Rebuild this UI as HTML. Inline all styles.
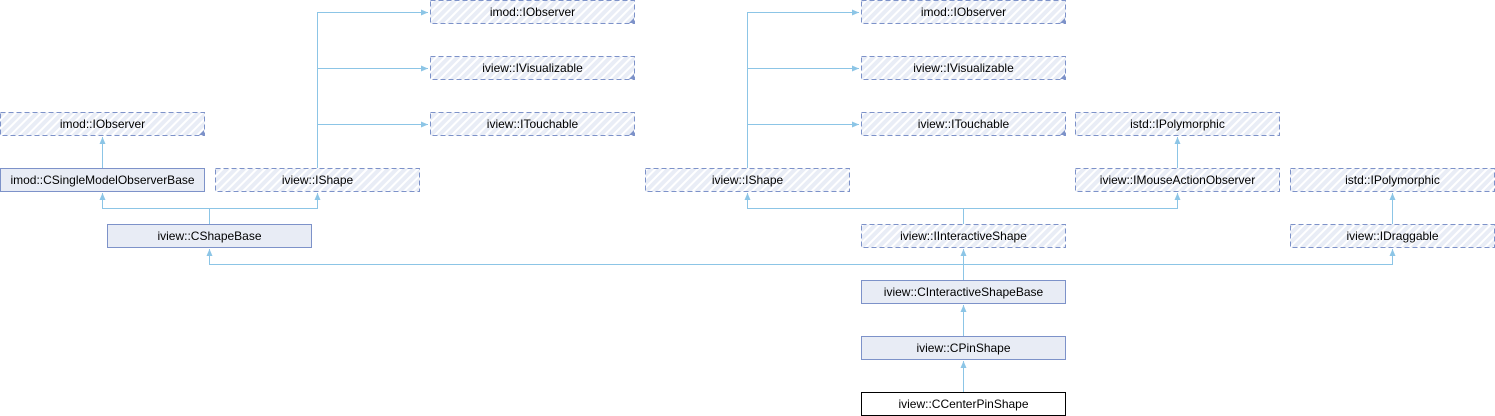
<!DOCTYPE html>
<html><head><meta charset="utf-8"><style>
html,body{margin:0;padding:0;background:#fff;}
svg{display:block;}
text{font-family:"Liberation Sans",Arial,sans-serif;font-size:12px;fill:#000;}
</style></head><body>
<svg width="1495" height="416" viewBox="0 0 1495 416" xmlns="http://www.w3.org/2000/svg">
<defs>
<pattern id="h" width="6" height="6" patternUnits="userSpaceOnUse" patternTransform="rotate(45)">
<rect width="6" height="6" fill="#e9edf6"/>
<rect width="2" height="6" fill="#ffffff"/>
</pattern>
<marker id="a" markerWidth="8" markerHeight="8" refX="7" refY="4" orient="auto" markerUnits="userSpaceOnUse">
<path d="M0,1 L7,4 L0,7 z" fill="#8cc5e6"/>
</marker>
</defs>
<g fill="none" stroke="#8cc5e6" stroke-width="1">
<!-- left group -->
<path d="M102.5,168 V137" marker-end="url(#a)"/>
<path d="M209.5,224 V208.5 H102.5 V193" marker-end="url(#a)"/>
<path d="M209.5,208.5 H317.5 V193" marker-end="url(#a)"/>
<path d="M317.5,168 V12.5 H428" marker-end="url(#a)"/>
<path d="M317.5,68.5 H428" marker-end="url(#a)"/>
<path d="M317.5,124.5 H428" marker-end="url(#a)"/>
<!-- right group -->
<path d="M747.5,168 V12.5 H859" marker-end="url(#a)"/>
<path d="M747.5,68.5 H859" marker-end="url(#a)"/>
<path d="M747.5,124.5 H859" marker-end="url(#a)"/>
<path d="M963.5,224 V208.5 H747.5 V193" marker-end="url(#a)"/>
<path d="M963.5,208.5 H1177.5 V193" marker-end="url(#a)"/>
<path d="M1177.5,168 V137" marker-end="url(#a)"/>
<path d="M1392.5,224 V193" marker-end="url(#a)"/>
<path d="M963.5,280 V264.5 H209.5 V249" marker-end="url(#a)"/>
<path d="M963.5,264.5 V249" marker-end="url(#a)"/>
<path d="M963.5,264.5 H1392.5 V249" marker-end="url(#a)"/>
<path d="M963.5,336 V305" marker-end="url(#a)"/>
<path d="M963.5,392 V361" marker-end="url(#a)"/>
</g>
<g stroke="#7d92c9" stroke-width="1">
<!-- dashed interface nodes -->
<g fill="url(#h)" stroke-dasharray="5,3">
<rect x="0.5" y="112.5" width="204" height="23"/>
<rect x="215.5" y="168.5" width="204" height="23"/>
<rect x="430.5" y="0.5" width="204" height="23"/>
<rect x="430.5" y="56.5" width="204" height="23"/>
<rect x="430.5" y="112.5" width="204" height="23"/>
<rect x="645.5" y="168.5" width="204" height="23"/>
<rect x="861.5" y="0.5" width="204" height="23"/>
<rect x="861.5" y="56.5" width="204" height="23"/>
<rect x="861.5" y="112.5" width="204" height="23"/>
<rect x="1075.5" y="112.5" width="204" height="23"/>
<rect x="1075.5" y="168.5" width="204" height="23"/>
<rect x="1290.5" y="168.5" width="204" height="23"/>
<rect x="861.5" y="224.5" width="204" height="23"/>
<rect x="1290.5" y="224.5" width="204" height="23"/>
</g>
<g fill="#e8ecf5">
<rect x="0.5" y="168.5" width="204" height="23"/>
<rect x="107.5" y="224.5" width="204" height="23"/>
<rect x="861.5" y="280.5" width="204" height="23"/>
<rect x="861.5" y="336.5" width="204" height="23"/>
</g>
<rect x="861.5" y="392.5" width="204" height="23" fill="#fff" stroke="#000"/>
</g>
<g fill="#7d92c9">
<path d="M204,130 V135 H199 z"/>
<path d="M634,18 V23 H629 z"/>
<path d="M634,74 V79 H629 z"/>
<path d="M634,130 V135 H629 z"/>
<path d="M1065,18 V23 H1060 z"/>
<path d="M1065,74 V79 H1060 z"/>
<path d="M1065,130 V135 H1060 z"/>
</g>
<g text-anchor="middle">
<text x="102.5" y="128">imod::IObserver</text>
<text x="102.5" y="184">imod::CSingleModelObserverBase</text>
<text x="317.5" y="184">iview::IShape</text>
<text x="209.5" y="240">iview::CShapeBase</text>
<text x="532.5" y="16">imod::IObserver</text>
<text x="532.5" y="72">iview::IVisualizable</text>
<text x="532.5" y="128">iview::ITouchable</text>
<text x="747.5" y="184">iview::IShape</text>
<text x="963.5" y="16">imod::IObserver</text>
<text x="963.5" y="72">iview::IVisualizable</text>
<text x="963.5" y="128">iview::ITouchable</text>
<text x="1177.5" y="128">istd::IPolymorphic</text>
<text x="1177.5" y="184">iview::IMouseActionObserver</text>
<text x="1392.5" y="184">istd::IPolymorphic</text>
<text x="963.5" y="240">iview::IInteractiveShape</text>
<text x="1392.5" y="240">iview::IDraggable</text>
<text x="963.5" y="296">iview::CInteractiveShapeBase</text>
<text x="963.5" y="352">iview::CPinShape</text>
<text x="963.5" y="408">iview::CCenterPinShape</text>
</g>
</svg>
</body></html>
